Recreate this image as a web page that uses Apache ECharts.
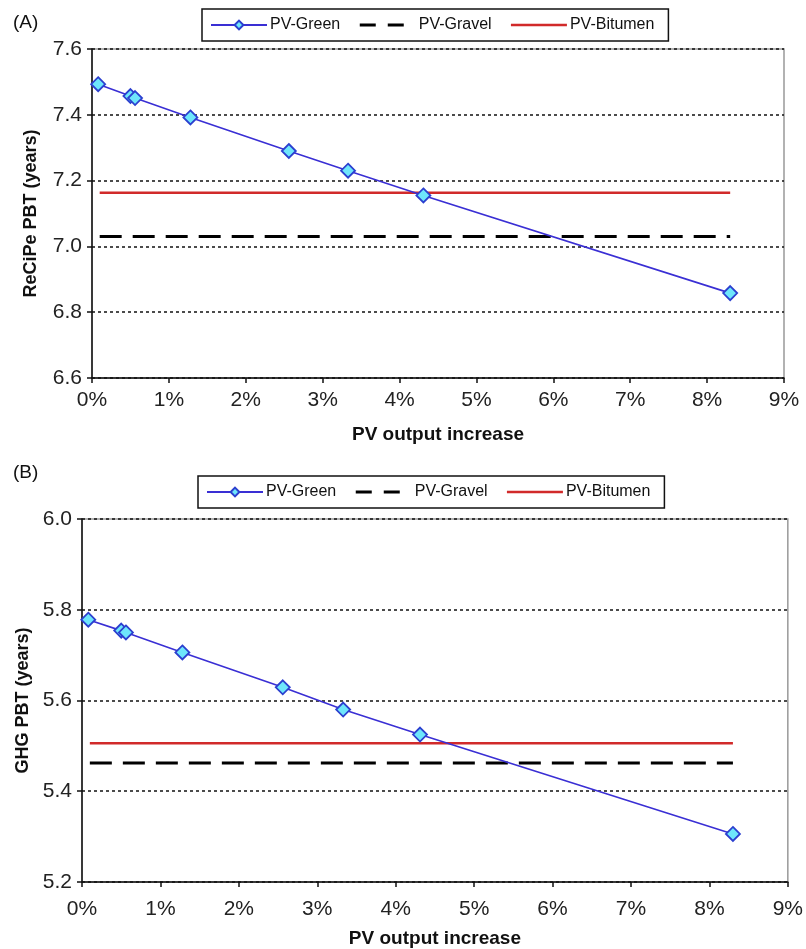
<!DOCTYPE html>
<html>
<head>
<meta charset="utf-8">
<script src="https://cdn.jsdelivr.net/npm/echarts@6/dist/echarts.min.js"></script>
<style>
html,body{margin:0;padding:0;background:#fff;}
#c{width:806px;height:949px;}
</style>
</head>
<body>
<div id="c"></div>
<script>
// PV output increase (%) for the PV-Green points
const xPct = [0.08, 0.50, 0.56, 1.28, 2.56, 3.33, 4.31, 8.30];
// Panel A: ReCiPe PBT (years)
const greenA = [7.493, 7.457, 7.451, 7.392, 7.290, 7.230, 7.155, 6.858];
const gravelA = 7.030;
const bitumenA = 7.163;
// Panel B: GHG PBT (years)
const greenB = [5.778, 5.754, 5.750, 5.706, 5.629, 5.580, 5.525, 5.306];
const gravelB = 5.462;
const bitumenB = 5.506;
// x extent of the flat reference lines
const flatX = [0.1, 8.3];
const seriesNames = ['PV-Green', 'PV-Gravel', 'PV-Bitumen'];
const panelLabels = ['(A)', '(B)'];
const yNames = ['ReCiPe PBT (years)', 'GHG PBT (years)'];
const xName = 'PV output increase';

const FONT = "'Liberation Sans Narrow','Liberation Sans',Arial,sans-serif";
const BOLD = "'Liberation Sans',Arial,sans-serif";
const BLUE = '#3a2fd4';
const RED = '#d12a2a';

function pairs(xs, ys){ return xs.map((x,i)=>[x, ys[i]]); }
function flat(v){ return flatX.map(x=>[x, v]); }

function xAxis(gi){
  return {
    type:'value', gridIndex:gi, min:0, max:9, interval:1,
    name:xName, nameLocation:'middle', nameGap:47,
    nameTextStyle:{fontFamily:BOLD, fontWeight:'bold', fontSize:19, color:'#111'},
    axisLine:{show:true, lineStyle:{color:'#111', width:1.5}},
    axisTick:{show:true, inside:false, length:5, lineStyle:{color:'#111', width:1.5}},
    axisLabel:{formatter:v=>v+'%', fontFamily:FONT, fontSize:21, color:'#222', margin:gi===0?12:17},
    splitLine:{show:false}
  };
}
function yAxis(gi, min, max){
  return {
    type:'value', gridIndex:gi, min:min, max:max, interval:0.2,
    name:yNames[gi], nameLocation:'middle', nameGap:gi===0?52:40, nameRotate:90,
    nameTextStyle:{fontFamily:BOLD, fontWeight:'bold', fontSize:18, color:'#111'},
    axisLine:{show:true, lineStyle:{color:'#111', width:1.5}},
    axisTick:{show:true, inside:false, length:5, lineStyle:{color:'#111', width:1.5}},
    axisLabel:{formatter:v=>v.toFixed(1), fontFamily:FONT, fontSize:21, color:'#222', margin:10},
    splitLine:{show:true, lineStyle:{color:'#111', width:1.5, type:[3,3]}}
  };
}
function legend(top, left){
  const hide = {color:'rgba(0,0,0,0)', borderWidth:0};
  return {
    top:top, left:left, orient:'horizontal',
    data:[
      {name:seriesNames[0]},
      {name:seriesNames[1], itemStyle:hide, lineStyle:{color:'#000', width:3, type:[16,12]}},
      {name:seriesNames[2], itemStyle:hide, lineStyle:{color:RED, width:2.5}}
    ],
    borderColor:'#111', borderWidth:1.5, padding:[8,14,8,8],
    itemGap:18, itemWidth:56, itemHeight:11,
    textStyle:{fontFamily:FONT, fontSize:16, color:'#111', padding:[0,0,0,-2]},
    selectedMode:false
  };
}
function greenSeries(gi, ys){
  return {
    name:seriesNames[0], type:'line', xAxisIndex:gi, yAxisIndex:gi,
    data:pairs(xPct, ys), symbol:'diamond', symbolSize:14,
    lineStyle:{color:BLUE, width:1.6},
    itemStyle:{color:'#6ee6fb', borderColor:'#2b3fcf', borderWidth:1.8},
    z:5
  };
}
function gravelSeries(gi, v){
  return {
    name:seriesNames[1], type:'line', xAxisIndex:gi, yAxisIndex:gi,
    data:flat(v), symbol:'none',
    lineStyle:{color:'#000', width:3, type:[22,11]},
    itemStyle:{color:'#000'}, z:3
  };
}
function bitumenSeries(gi, v){
  return {
    name:seriesNames[2], type:'line', xAxisIndex:gi, yAxisIndex:gi,
    data:flat(v), symbol:'none',
    lineStyle:{color:RED, width:2.5},
    itemStyle:{color:RED}, z:3
  };
}

const chart = echarts.init(document.getElementById('c'), null, {renderer:'canvas'});
chart.setOption({
  backgroundColor:'#fff',
  animation:false,
  title:[
    {text:panelLabels[0], left:8, top:8, textStyle:{fontFamily:FONT, fontWeight:'normal', fontSize:19, color:'#111'}},
    {text:panelLabels[1], left:8, top:458, textStyle:{fontFamily:FONT, fontWeight:'normal', fontSize:19, color:'#111'}}
  ],
  legend:[legend(9, 202), legend(476, 198)],
  grid:[
    {left:92, top:49, width:692, height:329, show:true, borderColor:'#999', borderWidth:1.5, backgroundColor:'transparent'},
    {left:82, top:519, width:708, height:365, show:true, borderColor:'#999', borderWidth:1.5, backgroundColor:'transparent'}
  ],
  xAxis:[xAxis(0), xAxis(1)],
  yAxis:[yAxis(0, 6.6, 7.6), yAxis(1, 5.2, 6.0)],
  series:[
    greenSeries(0, greenA), gravelSeries(0, gravelA), bitumenSeries(0, bitumenA),
    greenSeries(1, greenB), gravelSeries(1, gravelB), bitumenSeries(1, bitumenB)
  ]
});
</script>
</body>
</html>
